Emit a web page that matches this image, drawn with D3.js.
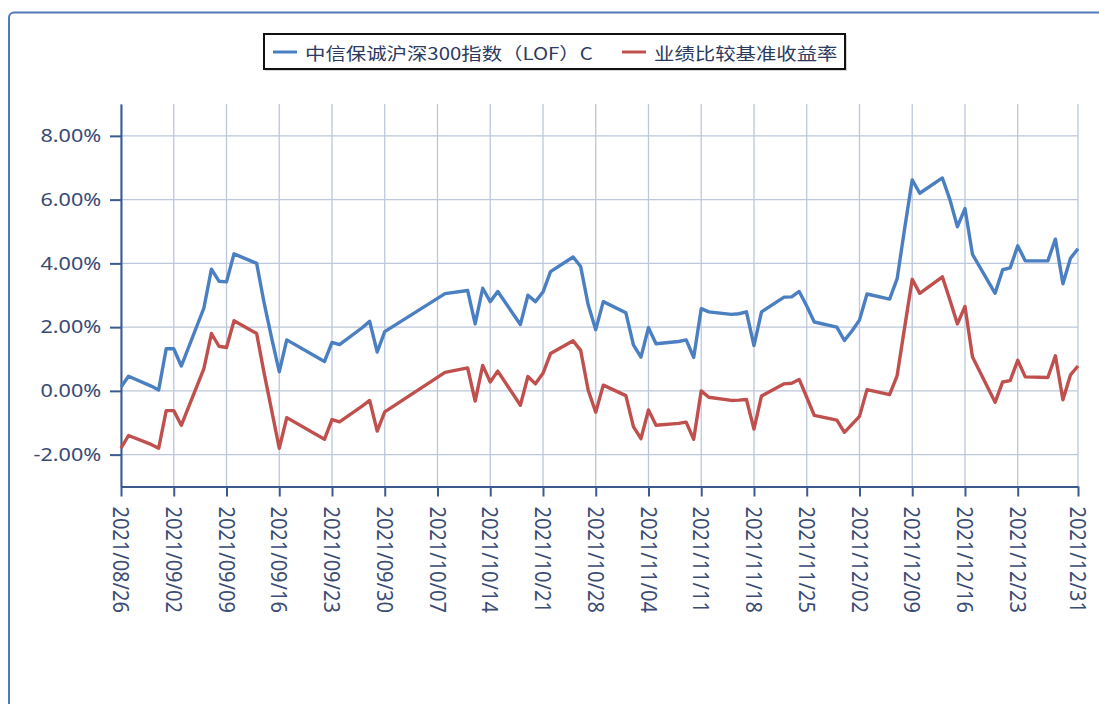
<!DOCTYPE html>
<html>
<head>
<meta charset="utf-8">
<script src="https://cdn.jsdelivr.net/npm/d3@7"></script>
<style>
  body { margin: 0; background: #fff; }
  svg { display: block; }
</style>
</head>
<body>
<div id="chart"></div>
<script>
// trading days shown on the chart
const dates = [
  "2021/08/26","2021/08/27","2021/08/30","2021/08/31","2021/09/01","2021/09/02","2021/09/03",
  "2021/09/06","2021/09/07","2021/09/08","2021/09/09","2021/09/10","2021/09/13","2021/09/14",
  "2021/09/15","2021/09/16","2021/09/17","2021/09/22","2021/09/23","2021/09/24","2021/09/27",
  "2021/09/28","2021/09/29","2021/09/30","2021/10/08","2021/10/11","2021/10/12","2021/10/13",
  "2021/10/14","2021/10/15","2021/10/18","2021/10/19","2021/10/20","2021/10/21","2021/10/22",
  "2021/10/25","2021/10/26","2021/10/27","2021/10/28","2021/10/29","2021/11/01","2021/11/02",
  "2021/11/03","2021/11/04","2021/11/05","2021/11/08","2021/11/09","2021/11/10","2021/11/11",
  "2021/11/12","2021/11/15","2021/11/16","2021/11/17","2021/11/18","2021/11/19","2021/11/22",
  "2021/11/23","2021/11/24","2021/11/25","2021/11/26","2021/11/29","2021/11/30","2021/12/01",
  "2021/12/02","2021/12/03","2021/12/06","2021/12/07","2021/12/08","2021/12/09","2021/12/10",
  "2021/12/13","2021/12/14","2021/12/15","2021/12/16","2021/12/17","2021/12/20","2021/12/21",
  "2021/12/22","2021/12/23","2021/12/24","2021/12/27","2021/12/28","2021/12/29","2021/12/30",
  "2021/12/31"
]

// 中信保诚沪深300指数（LOF）C, %
const fundValues = [
  0.12, 0.46, 0.15, 0.03, 1.32, 1.32, 0.78,
  2.60, 3.82, 3.44, 3.42, 4.30, 4.00, 2.75,
  1.65, 0.60, 1.60, 0.92, 1.52, 1.45, 1.98,
  2.18, 1.22, 1.86, 3.05, 3.15, 2.10, 3.22,
  2.80, 3.12, 2.08, 3.00, 2.80, 3.10, 3.74,
  4.20, 3.90, 2.70, 1.92, 2.80, 2.45, 1.44,
  1.06, 1.98, 1.48, 1.55, 1.60, 1.05, 2.58,
  2.48, 2.40, 2.42, 2.48, 1.42, 2.48, 2.94,
  2.95, 3.12, 2.66, 2.16, 2.00, 1.58, 1.88,
  2.22, 3.04, 2.88, 3.52, 5.10, 6.62, 6.20,
  6.68, 6.00, 5.15, 5.72, 4.28, 3.06, 3.80,
  3.86, 4.55, 4.08, 4.08, 4.76, 3.36, 4.16,
  4.46
]

// 业绩比较基准收益率, %
const benchValues = [
  -1.80, -1.40, -1.68, -1.80, -0.62, -0.62, -1.08,
  0.70, 1.80, 1.40, 1.36, 2.20, 1.80, 0.55,
  -0.62, -1.80, -0.84, -1.52, -0.90, -0.97, -0.48,
  -0.30, -1.26, -0.66, 0.58, 0.72, -0.32, 0.80,
  0.28, 0.62, -0.45, 0.45, 0.22, 0.55, 1.17,
  1.57, 1.27, 0.02, -0.67, 0.18, -0.15, -1.12,
  -1.50, -0.60, -1.08, -1.02, -0.98, -1.52, 0.00,
  -0.20, -0.30, -0.29, -0.27, -1.20, -0.16, 0.22,
  0.24, 0.36, -0.20, -0.77, -0.92, -1.30, -1.05,
  -0.80, 0.04, -0.12, 0.48, 2.00, 3.50, 3.06,
  3.58, 2.85, 2.10, 2.65, 1.06, -0.36, 0.28,
  0.32, 0.96, 0.44, 0.42, 1.10, -0.28, 0.50,
  0.78
]

const seriesNames = ["中信保诚沪深300指数（LOF）C", "业绩比较基准收益率"]
const seriesColors = ["#4a7fc1", "#c0504d"]

const xTickLabels = [
  "2021/08/26","2021/09/02","2021/09/09","2021/09/16","2021/09/23","2021/09/30",
  "2021/10/07","2021/10/14","2021/10/21","2021/10/28","2021/11/04","2021/11/11",
  "2021/11/18","2021/11/25","2021/12/02","2021/12/09","2021/12/16","2021/12/23",
  "2021/12/31"
]
const yTicks = [-2, 0, 2, 4, 6, 8]

const W = 1099, H = 704
const plot = {left: 121, right: 1078, top: 104, bottom: 486.5}

const parse = d3.timeParse("%Y/%m/%d")
const fmt = d3.timeFormat("%Y/%m/%d")

const svg = d3.select("#chart").append("svg")
  .attr("width", W)
  .attr("height", H)

// outer frame
svg.append("rect")
  .attr("x", 9).attr("y", 12.5)
  .attr("width", 1120).attr("height", 720)
  .attr("rx", 5)
  .attr("fill", "none")
  .attr("stroke", "#5279ba")
  .attr("stroke-width", 2)

const x = d3.scaleTime()
  .domain([parse("2021/08/26"), parse("2021/12/31")])
  .range([plot.left, plot.right])

const y = d3.scaleLinear()
  .domain([-3, 9])
  .range([plot.bottom, plot.top])

const gridColor = "#bcc7db"
const axisColor = "#3b5b8f"
const textColor = "#3a4b74"

// grid
svg.append("g").selectAll("line")
  .data(xTickLabels)
  .join("line")
    .attr("x1", d => x(parse(d))).attr("x2", d => x(parse(d)))
    .attr("y1", plot.top).attr("y2", plot.bottom)
    .attr("stroke", gridColor).attr("stroke-width", 1.3)

svg.append("g").selectAll("line")
  .data(yTicks)
  .join("line")
    .attr("x1", plot.left).attr("x2", plot.right)
    .attr("y1", d => y(d)).attr("y2", d => y(d))
    .attr("stroke", gridColor).attr("stroke-width", 1.3)

// axes
const yAxis = svg.append("g")
  .attr("transform", `translate(${plot.left},0)`)
  .call(d3.axisLeft(y).tickValues(yTicks).tickSize(11).tickSizeOuter(0)
    .tickFormat(d => d.toFixed(2) + "%"))
yAxis.select(".domain").attr("stroke", axisColor).attr("stroke-width", 2)
yAxis.selectAll(".tick line").attr("stroke", axisColor).attr("stroke-width", 2)
yAxis.selectAll(".tick text")
  .attr("x", -16.5)
  .attr("transform", "scale(1.2,1)")
  .attr("fill", textColor)
  .style("font-family", "'Noto Sans', sans-serif")
  .style("font-size", "18px")

const xAxis = svg.append("g")
  .attr("transform", `translate(0,${plot.bottom})`)
  .call(d3.axisBottom(x).tickValues(xTickLabels.map(parse)).tickSize(10).tickSizeOuter(0)
    .tickFormat(fmt))
xAxis.select(".domain").attr("stroke", axisColor).attr("stroke-width", 2)
xAxis.selectAll(".tick line").attr("stroke", axisColor).attr("stroke-width", 2)
xAxis.selectAll(".tick text")
  .attr("x", 0).attr("y", 0).attr("dy", null)
  .attr("transform", "translate(0,20) scale(1.1,1) rotate(90)")
  .attr("text-anchor", "start")
  .attr("dominant-baseline", "central")
  .attr("fill", textColor)
  .style("font-family", "'Noto Sans', sans-serif")
  .style("font-size", "20px")

// lines
const line = d3.line()
  .x((d, i) => x(parse(dates[i])))
  .y(d => y(d))

;[fundValues, benchValues].forEach((vals, k) => {
  svg.append("path")
    .datum(vals)
    .attr("d", line)
    .attr("fill", "none")
    .attr("stroke", seriesColors[k])
    .attr("stroke-width", 3.4)
    .attr("stroke-linejoin", "round")
})

// legend
const legend = svg.append("g")
legend.append("rect")
  .attr("x", 265).attr("y", 35).attr("width", 582).attr("height", 36)
  .attr("fill", "#d8d8d8")
legend.append("rect")
  .attr("x", 264).attr("y", 34).attr("width", 581).attr("height", 35)
  .attr("fill", "#fff").attr("stroke", "#111").attr("stroke-width", 2)

const legendX = [273, 622]
seriesNames.forEach((name, k) => {
  legend.append("line")
    .attr("x1", legendX[k]).attr("x2", legendX[k] + 24)
    .attr("y1", 52).attr("y2", 52)
    .attr("stroke", seriesColors[k]).attr("stroke-width", 3)
  legend.append("text")
    .attr("transform", `translate(${legendX[k] + 32},52) scale(1.2,1)`)
    .attr("dominant-baseline", "central")
    .attr("fill", "#2c3a5e")
    .style("font-family", "'Noto Sans CJK SC', sans-serif")
    .style("font-size", "17px")
    .text(name)
})
</script>
</body>
</html>
